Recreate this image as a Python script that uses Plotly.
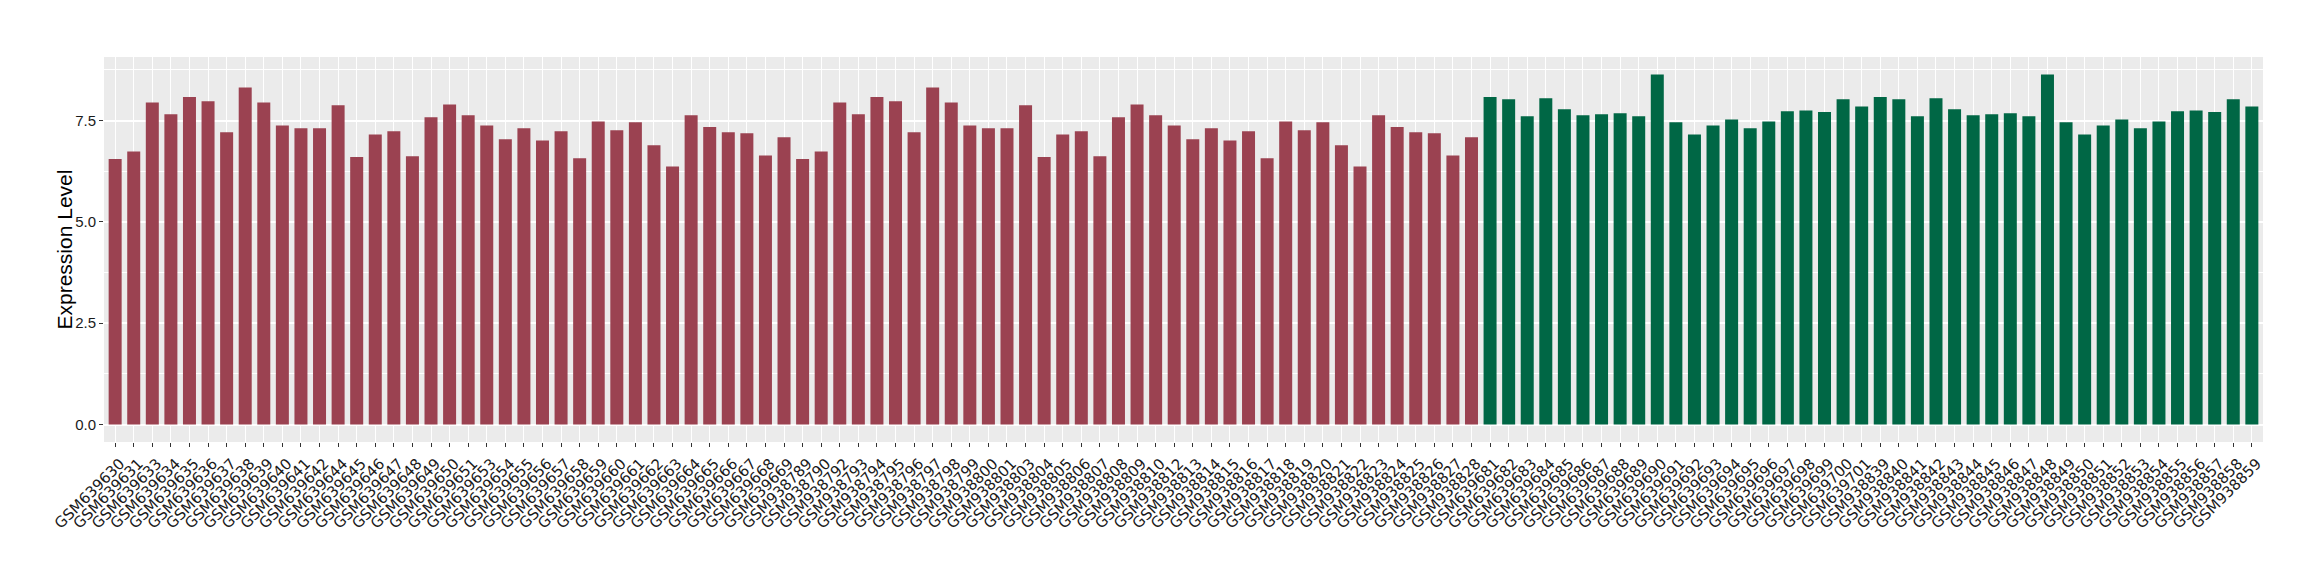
import plotly.graph_objects as go

# Group 1 (red) samples and expression values
red_samples = [
    "GSM639630", "GSM639631", "GSM639633", "GSM639634", "GSM639635", "GSM639636",
    "GSM639637", "GSM639638", "GSM639639", "GSM639640", "GSM639641", "GSM639642",
    "GSM639644", "GSM639645", "GSM639646", "GSM639647", "GSM639648", "GSM639649",
    "GSM639650", "GSM639651", "GSM639653", "GSM639654", "GSM639655", "GSM639656",
    "GSM639657", "GSM639658", "GSM639659", "GSM639660", "GSM639661", "GSM639662",
    "GSM639663", "GSM639664", "GSM639665", "GSM639666", "GSM639667", "GSM639668",
    "GSM639669",
    "GSM938789", "GSM938790", "GSM938792", "GSM938793", "GSM938794", "GSM938795",
    "GSM938796", "GSM938797", "GSM938798", "GSM938799", "GSM938800", "GSM938801",
    "GSM938803", "GSM938804", "GSM938805", "GSM938806", "GSM938807", "GSM938808",
    "GSM938809", "GSM938810", "GSM938812", "GSM938813", "GSM938814", "GSM938815",
    "GSM938816", "GSM938817", "GSM938818", "GSM938819", "GSM938820", "GSM938821",
    "GSM938822", "GSM938823", "GSM938824", "GSM938825", "GSM938826", "GSM938827",
    "GSM938828",
]
red_values = [
    6.55, 6.74, 7.95, 7.66, 8.08, 7.98, 7.21, 8.32, 7.95, 7.38, 7.31, 7.31,
    7.88, 6.60, 7.16, 7.24, 6.62, 7.58, 7.90, 7.63, 7.38, 7.04, 7.31, 7.01,
    7.24, 6.57, 7.48, 7.26, 7.46, 6.89, 6.37, 7.63, 7.34, 7.21, 7.19, 6.64,
    7.09,
    6.55, 6.74, 7.95, 7.66, 8.08, 7.98, 7.21, 8.32, 7.95, 7.38, 7.31, 7.31,
    7.88, 6.60, 7.16, 7.24, 6.62, 7.58, 7.90, 7.63, 7.38, 7.04, 7.31, 7.01,
    7.24, 6.57, 7.48, 7.26, 7.46, 6.89, 6.37, 7.63, 7.34, 7.21, 7.19, 6.64,
    7.09,
]

# Group 2 (green) samples and expression values
green_samples = [
    "GSM639681", "GSM639682", "GSM639683", "GSM639684", "GSM639685", "GSM639686",
    "GSM639687", "GSM639688", "GSM639689", "GSM639690", "GSM639691", "GSM639692",
    "GSM639693", "GSM639694", "GSM639695", "GSM639696", "GSM639697", "GSM639698",
    "GSM639699", "GSM639700", "GSM639701",
    "GSM938839", "GSM938840", "GSM938841", "GSM938842", "GSM938843", "GSM938844",
    "GSM938845", "GSM938846", "GSM938847", "GSM938848", "GSM938849", "GSM938850",
    "GSM938851", "GSM938852", "GSM938853", "GSM938854", "GSM938855", "GSM938856",
    "GSM938857", "GSM938858", "GSM938859",
]
green_values = [
    8.08, 8.03, 7.61, 8.05, 7.78, 7.63, 7.66, 7.68, 7.61, 8.64, 7.46, 7.16,
    7.38, 7.53, 7.31, 7.48, 7.73, 7.75, 7.71, 8.03, 7.85,
    8.08, 8.03, 7.61, 8.05, 7.78, 7.63, 7.66, 7.68, 7.61, 8.64, 7.46, 7.16,
    7.38, 7.53, 7.31, 7.48, 7.73, 7.75, 7.71, 8.03, 7.85,
]

y_ticks = [0, 2.5, 5.0, 7.5]
y_tick_labels = ["0.0", "2.5", "5.0", "7.5"]
y_title = "Expression Level"

RED = "#9B4251"
GREEN = "#006745"

W, H = 2320, 580
ML, MR, MT, MB = 104, 57, 57, 138

fig = go.Figure()
fig.add_trace(go.Bar(x=red_samples, y=red_values, marker_color=RED,
                     marker_line_width=0, width=0.7, showlegend=False))
fig.add_trace(go.Bar(x=green_samples, y=green_values, marker_color=GREEN,
                     marker_line_width=0, width=0.7, showlegend=False))

all_samples = red_samples + green_samples

fig.update_layout(
    width=W, height=H,
    margin=dict(l=ML, r=MR, t=MT, b=MB, autoexpand=False),
    paper_bgcolor="white",
    plot_bgcolor="#EBEBEB",
    barmode="overlay",
    xaxis=dict(
        type="category",
        categoryorder="array", categoryarray=all_samples,
        range=[-0.6, len(all_samples) - 1 + 0.6],
        tickmode="linear", tick0=0, dtick=1,
        showgrid=True, gridcolor="white", gridwidth=1.3,
        tickangle=-45,
        ticklabelshift=5, ticklabelstandoff=2,
        ticks="outside", ticklen=4, tickcolor="#333333", tickwidth=1,
        tickfont=dict(family="DejaVu Sans", size=15, color="#1a1a1a"),
        showline=False, zeroline=False,
    ),
    yaxis=dict(
        range=[-0.432, 9.07],
        tickvals=y_ticks, ticktext=y_tick_labels,
        showgrid=True, gridcolor="white", gridwidth=1.5,
        minor=dict(tickvals=[1.25, 3.75, 6.25, 8.75], showgrid=True,
                   gridcolor="white", gridwidth=0.7, ticks=""),
        ticks="outside", ticklen=4, tickcolor="#333333", tickwidth=1,
        tickfont=dict(family="Liberation Sans", size=15, color="#1a1a1a"),
        zeroline=False, showline=False,
    ),
    annotations=[dict(
        text=y_title, textangle=-90,
        xref="paper", yref="paper",
        x=(64 - ML) / (W - ML - MR), y=0.5,
        xanchor="center", yanchor="middle", showarrow=False,
        font=dict(family="Liberation Sans", size=21, color="black"),
    )],
)

fig.write_html("out.html", config={"displayModeBar": False},
               post_script="document.body.style.margin='0';")
